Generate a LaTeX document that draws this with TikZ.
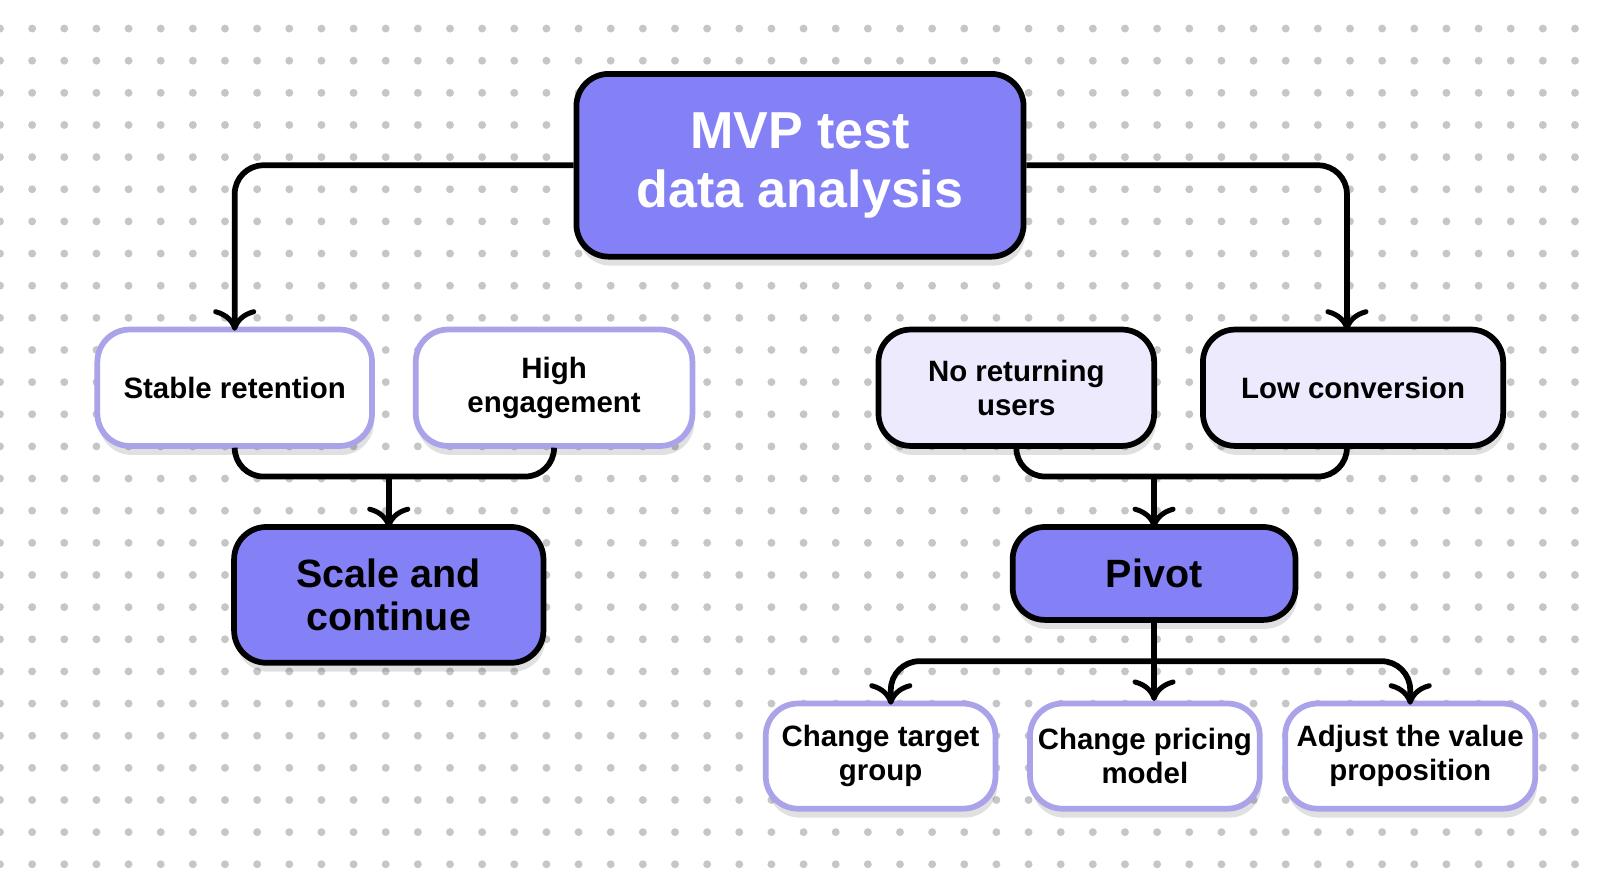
\documentclass[tikz,border=0pt]{standalone}
\usepackage{fontspec}
\setmainfont{Liberation Sans}
\usetikzlibrary{positioning,shadows,arrows.meta}
\definecolor{mvpblue}{HTML}{8481F7}
\definecolor{lav}{HTML}{ECEAFC}
\definecolor{lavline}{HTML}{AAA3EA}
\tikzset{
  box/.style={draw, rounded corners=9pt, line width=1.6pt, align=center, font=\bfseries\fontsize{8.2}{9.6}\selectfont,
    inner sep=0pt, drop shadow={shadow xshift=0.5pt, shadow yshift=-2.5pt, fill=black, opacity=0.12}},
  good/.style={box, draw=lavline, fill=white},
  bad/.style={box, draw=black, fill=lav},
  big/.style={box, draw=black, fill=mvpblue},
  link/.style={line width=1.6pt, rounded corners=8pt, -{To[length=6pt,width=12pt,line width=1.4pt]}},
  line/.style={line width=1.6pt, rounded corners=8pt}
}
\begin{document}
\begin{tikzpicture}[x=0.01cm,y=-0.01cm]
\clip (0,0) rectangle (1568,874);
\useasboundingbox (0,0) rectangle (1568,874);
\fill[white] (0,0) rectangle (1568,874);
% background dots
\foreach \i in {0,...,50}
  \foreach \j in {0,...,27}
    \fill[gray!45] (\i*31.5,28+\j*31.5) circle (1.1pt);

\node[big, minimum width=4.38cm, minimum height=1.79cm, text=white, font=\bfseries\fontsize{14.5}{16.5}\selectfont] (mvp) at (784,162) {MVP test\\data analysis};

\node[good, minimum width=2.69cm, minimum height=1.14cm] (stable) at (230,380) {Stable retention};
\node[good, minimum width=2.71cm, minimum height=1.14cm] (high) at (543,380) {High\\engagement};
\node[bad, minimum width=2.70cm, minimum height=1.14cm] (noret) at (996,380) {No returning\\users};
\node[bad, minimum width=2.94cm, minimum height=1.14cm] (low) at (1326,380) {Low conversion};

\node[big, minimum width=3.03cm, minimum height=1.33cm, font=\bfseries\fontsize{11}{12}\selectfont] (scale) at (381,583) {Scale and\\continue};
\node[big, minimum width=2.77cm, minimum height=0.91cm, font=\bfseries\fontsize{11}{12}\selectfont] (pivot) at (1131,562) {Pivot};

\node[good, minimum width=2.25cm, minimum height=1.03cm] (target) at (863,741) {Change target\\group};
\node[good, minimum width=2.25cm, minimum height=1.03cm] (pricing) at (1122,741) {Change pricing\\model};
\node[good, minimum width=2.45cm, minimum height=1.03cm] (value) at (1382,741) {Adjust the value\\proposition};

\coordinate (lj) at (381,467);
\coordinate (rj) at (1131,467);
\coordinate (pj) at (1131,648);

\draw[link] (mvp.west) -| ([yshift=-0.04cm]stable.north);
\draw[link] (mvp.east) -| ([xshift=-0.06cm,yshift=-0.04cm]low.north);

\draw[line] (stable.south) |- (lj);
\draw[line] (high.south) |- (lj);
\draw[link] (lj) -- ([yshift=-0.04cm]scale.north);

\draw[line] (noret.south) |- (rj);
\draw[line] ([xshift=-0.06cm]low.south) |- (rj);
\draw[link] (rj) -- ([yshift=-0.04cm]pivot.north);

\draw[line] (pivot.south) -- (pj);
\draw[link] (pj) -| ([xshift=0.1cm,yshift=-0.04cm]target.north);
\draw[link] (pj) -- (1131,687);
\draw[link] (pj) -| ([yshift=-0.04cm]value.north);
\end{tikzpicture}
\end{document}
